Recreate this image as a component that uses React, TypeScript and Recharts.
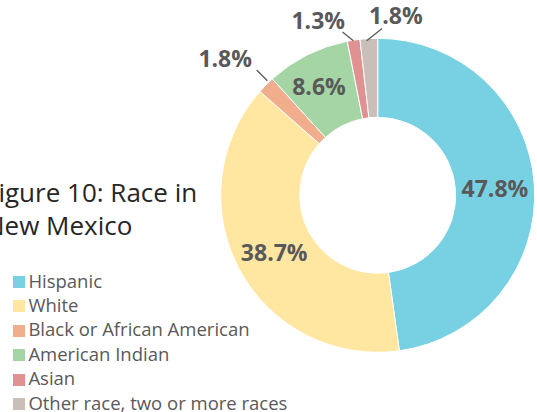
import React from 'react';
import { PieChart, Pie, Cell, Legend } from 'recharts';

const categories = [
  'Hispanic',
  'White',
  'Black or African American',
  'American Indian',
  'Asian',
  'Other race, two or more races',
];
const shares = [47.8, 38.7, 1.8, 8.6, 1.3, 1.8];
const shareLabels = ['47.8%', '38.7%', '1.8%', '8.6%', '1.3%', '1.8%'];
const colors = ['#78D1E3', '#FFE7A1', '#F0AE8C', '#A5D4A5', '#E09191', '#C9BFB8'];
const titleLines = ['Figure 10: Race in', 'New Mexico'];

const data = categories.map((name, i) => ({ name, value: shares[i], label: shareLabels[i] }));

const W = 537;
const H = 412;
const RAD = Math.PI / 180;
const FONT = '"Open Sans", sans-serif';
const LABEL_COLOR = '#595959';

// labels drawn outside the ring, offsets relative to the outer-edge point at the slice mid-angle
const OUTSIDE: Record<number, { line: number[]; text: number[]; anchor: 'start' | 'end' }> = {
  2: { line: [1.3, -4.3, -9.3, -15], text: [-14, -18.3], anchor: 'end' },
  4: { line: [-0.3, 0.5, -11.1, -8.2], text: [-8.6, -10.9], anchor: 'end' },
  5: { line: [-2.1, 2.1, 13.2, -10.1], text: [0.2, -14.6], anchor: 'start' },
};
const INSIDE_NUDGE: Record<number, number[]> = { 0: [0, 1.5], 1: [0, 1.9], 3: [-6, -3.6] };

const renderLabel = (props: any) => {
  const { cx, cy, midAngle, innerRadius, outerRadius, index } = props;
  const text = shareLabels[index];
  const cos = Math.cos(-midAngle * RAD);
  const sin = Math.sin(-midAngle * RAD);
  const out = OUTSIDE[index];
  if (out) {
    const px = cx + outerRadius * cos;
    const py = cy + outerRadius * sin;
    return (
      <g key={`lbl-${index}`}>
        <line
          x1={px + out.line[0]}
          y1={py + out.line[1]}
          x2={px + out.line[2]}
          y2={py + out.line[3]}
          stroke="#595959"
          strokeWidth={1.3}
        />
        <text
          x={px + out.text[0]}
          y={py + out.text[1]}
          textAnchor={out.anchor}
          fill={LABEL_COLOR}
          fontFamily={FONT}
          fontWeight="bold"
          fontSize={23}
        >
          {text}
        </text>
      </g>
    );
  }
  const r = (innerRadius + outerRadius) / 2;
  const n = INSIDE_NUDGE[index] || [0, 0];
  return (
    <text
      key={`lbl-${index}`}
      x={cx + r * cos + n[0]}
      y={cy + r * sin + n[1]}
      dy="0.36em"
      textAnchor="middle"
      fill={LABEL_COLOR}
      fontFamily={FONT}
      fontWeight="bold"
      fontSize={23}
    >
      {text}
    </text>
  );
};

const renderLegend = () => (
  <div style={{ fontFamily: FONT, color: '#595959' }}>
    {categories.map((name, i) => (
      <div key={name} style={{ display: 'flex', alignItems: 'flex-start', height: 24.4 }}>
        <span
          style={{
            display: 'inline-block',
            width: 12,
            height: 12,
            marginTop: 7.3,
            marginRight: 3.4,
            background: colors[i],
            flex: 'none',
          }}
        />
        <span style={{ fontSize: 18.5, lineHeight: '24.4px', whiteSpace: 'nowrap' }}>{name}</span>
      </div>
    ))}
  </div>
);

export default function App() {
  return (
    <div style={{ position: 'absolute', left: 0, top: 0, width: W, height: H, background: '#fff' }}>
      <PieChart width={W} height={H} margin={{ top: 0, right: 0, bottom: 0, left: 0 }}>
        <text x={-15} y={201.7} fontFamily={FONT} fontSize={26} fill="#262626">
          {titleLines[0]}
        </text>
        <text x={-15} y={235} fontFamily={FONT} fontSize={26} fill="#262626">
          {titleLines[1]}
        </text>
        <Pie
          data={data}
          dataKey="value"
          nameKey="name"
          cx={377.7}
          cy={195.3}
          innerRadius={78}
          outerRadius={157}
          startAngle={90}
          endAngle={-270}
          stroke="#fff"
          strokeWidth={1}
          label={renderLabel}
          labelLine={false}
          isAnimationActive={false}
        >
          {data.map((d, i) => (
            <Cell key={d.name} fill={colors[i]} />
          ))}
        </Pie>
        <Legend
          layout="horizontal"
          align="center"
          verticalAlign="middle"
          content={renderLegend}
          wrapperStyle={{ left: 13, top: 268.7, width: 320 }}
        />
      </PieChart>
    </div>
  );
}
